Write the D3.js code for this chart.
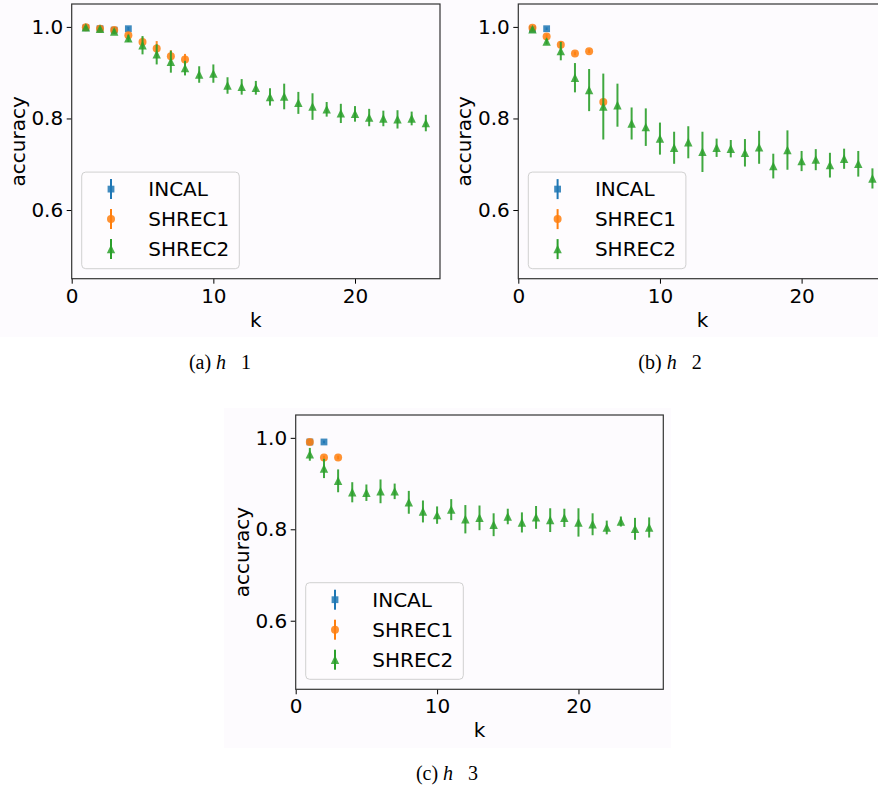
<!DOCTYPE html>
<html>
<head>
<meta charset="utf-8">
<script src="https://cdn.jsdelivr.net/npm/d3@7"></script>
<style>
  body { margin: 0; background: #fff; }
  svg { display: block; }
  .tick text { font-family: "DejaVu Sans", sans-serif; font-size: 20px; fill: #000; }
  .lbl { font-family: "DejaVu Sans", sans-serif; font-size: 20px; fill: #000; }
  .cap { font-family: "Liberation Serif", "Times New Roman", serif; font-size: 20px; fill: #000; }
</style>
</head>
<body>
<script>
// k values along x
var kValues = [1, 2, 3, 4, 5, 6, 7, 8, 9, 10, 11, 12, 13, 14, 15, 16, 17, 18, 19, 20, 21, 22, 23, 24, 25];
var seriesNames = ["INCAL", "SHREC1", "SHREC2"];
var xTicks = [0, 10, 20];
var yTicks = [0.6, 0.8, 1.0];
var captions = ["1", "2", "3"];

// (a) h = 1
var incalA = [0.998, 0.996, 0.993, 0.996];
var incalAErr = [0.003, 0.003, 0.004, 0.004];
var shrec1A = [0.999, 0.996, 0.993, 0.982, 0.967, 0.953, 0.936, 0.929];
var shrec1AErr = [0.003, 0.003, 0.004, 0.006, 0.010, 0.016, 0.013, 0.012];
var shrec2A = [0.999, 0.996, 0.990, 0.975, 0.960, 0.940, 0.924, 0.910, 0.896, 0.898, 0.872, 0.869, 0.867,
  0.847, 0.848, 0.834, 0.826, 0.820, 0.811, 0.810, 0.802, 0.800, 0.798, 0.800, 0.790];
var shrec2AErr = [0.003, 0.004, 0.005, 0.008, 0.020, 0.022, 0.024, 0.016, 0.018, 0.020, 0.018, 0.017, 0.015,
  0.019, 0.028, 0.024, 0.029, 0.016, 0.021, 0.017, 0.019, 0.017, 0.020, 0.015, 0.018];

// (b) h = 2
var incalB = [0.995, 0.996];
var incalBErr = [0.003, 0.003];
var shrec1B = [0.998, 0.979, 0.961, 0.942, 0.947, 0.836];
var shrec1BErr = [0.003, 0.005, 0.008, 0.004, 0.004, 0.006];
var shrec2B = [0.995, 0.968, 0.947, 0.889, 0.862, 0.826, 0.829, 0.789, 0.781, 0.756, 0.736, 0.748, 0.727,
  0.736, 0.734, 0.725, 0.737, 0.696, 0.731, 0.707, 0.710, 0.698, 0.712, 0.701, 0.669];
var shrec2BErr = [0.004, 0.006, 0.020, 0.032, 0.046, 0.072, 0.047, 0.035, 0.041, 0.035, 0.035, 0.035, 0.044,
  0.020, 0.019, 0.030, 0.036, 0.027, 0.043, 0.022, 0.023, 0.027, 0.022, 0.028, 0.022];

// (c) h = 3
var incalC = [0.991, 0.991];
var incalCErr = [0.003, 0.003];
var shrec1C = [0.991, 0.957, 0.957];
var shrec1CErr = [0.003, 0.004, 0.004];
var shrec2C = [0.964, 0.933, 0.906, 0.881, 0.880, 0.883, 0.883, 0.859, 0.839, 0.831, 0.843, 0.822, 0.825,
  0.810, 0.828, 0.815, 0.826, 0.820, 0.825, 0.815, 0.811, 0.804, 0.817, 0.801, 0.804];
var shrec2CErr = [0.014, 0.021, 0.025, 0.022, 0.018, 0.026, 0.017, 0.025, 0.024, 0.019, 0.023, 0.031, 0.027,
  0.025, 0.017, 0.022, 0.025, 0.026, 0.020, 0.031, 0.024, 0.015, 0.011, 0.024, 0.022];

var colors = ["#1f77b4", "#ff7f0e", "#2ca02c"];
var figBg = "#fdfbfe";

function pack(vals, errs) {
  return vals.map((v, i) => ({ k: kValues[i], v: v, e: errs[i] }));
}

var panels = [
  { fig: [0, 0, 447, 337], ax: [71.7, 4, 368.3, 274.7], cap: [220, 369],
    series: [pack(incalA, incalAErr), pack(shrec1A, shrec1AErr), pack(shrec2A, shrec2AErr)] },
  { fig: [447, 0, 447, 337], ax: [518.3, 4, 368.3, 274.7], cap: [670, 369],
    series: [pack(incalB, incalBErr), pack(shrec1B, shrec1BErr), pack(shrec2B, shrec2BErr)] },
  { fig: [224, 408, 447, 340], ax: [295.7, 415, 367.6, 274.3], cap: [447, 780],
    series: [pack(incalC, incalCErr), pack(shrec1C, shrec1CErr), pack(shrec2C, shrec2CErr)] }
];

const svg = d3.select("body").append("svg").attr("width", 878).attr("height", 792);

// marker drawing: square, circle, triangle (bbox centred like matplotlib)
function marker(sel, idx) {
  if (idx === 0) {
    sel.append("rect").attr("x", -3.4).attr("y", -3.4).attr("width", 6.8).attr("height", 6.8);
  } else if (idx === 1) {
    sel.append("circle").attr("r", 4);
  } else {
    sel.append("path").attr("d", "M0,-4.4L-4.2,4.2L4.2,4.2Z");
  }
}

panels.forEach(function (p, pi) {
  const [ax, ay, aw, ah] = p.ax;
  svg.append("rect").attr("x", p.fig[0]).attr("y", p.fig[1])
    .attr("width", p.fig[2]).attr("height", p.fig[3]).attr("fill", figBg);

  const x = d3.scaleLinear().domain([0, 26]).range([ax, ax + aw]);
  const y = d3.scaleLinear().domain([0.45, 1.05]).range([ay + ah, ay]);

  const g = svg.append("g");

  // axes
  g.append("g").attr("transform", `translate(0,${ay + ah})`)
    .call(d3.axisBottom(x).tickValues(xTicks).tickFormat(d3.format("d")).tickSize(5).tickPadding(5).tickSizeOuter(0))
    .call((s) => s.select(".domain").remove());
  g.append("g").attr("transform", `translate(${ax},0)`)
    .call(d3.axisLeft(y).tickValues(yTicks).tickFormat(d3.format(".1f")).tickSize(5).tickPadding(3.5).tickSizeOuter(0))
    .call((s) => s.select(".domain").remove());
  g.selectAll(".tick line").attr("stroke", "#000").attr("stroke-width", 1);

  g.append("text").attr("class", "lbl").attr("text-anchor", "middle")
    .attr("transform", `translate(${ax - 47},${ay + ah / 2}) rotate(-90)`).text("accuracy");
  g.append("text").attr("class", "lbl").attr("text-anchor", "middle")
    .attr("x", ax + aw / 2).attr("y", ay + ah + 48).text("k");

  // data
  p.series.forEach(function (data, si) {
    const sg = g.append("g").attr("fill", colors[si]).attr("stroke", colors[si]);
    sg.selectAll("line").data(data).enter().append("line")
      .attr("x1", (d) => x(d.k)).attr("x2", (d) => x(d.k))
      .attr("y1", (d) => y(d.v - d.e)).attr("y2", (d) => y(d.v + d.e))
      .attr("stroke-width", 2).attr("opacity", 0.9);
    sg.selectAll("g.m").data(data).enter().append("g").attr("class", "m")
      .attr("transform", (d) => `translate(${x(d.k)},${y(d.v)})`)
      .attr("stroke", "none").attr("opacity", 0.85)
      .each(function () { marker(d3.select(this), si); });
  });

  // frame
  g.append("rect").attr("x", ax).attr("y", ay).attr("width", aw).attr("height", ah)
    .attr("fill", "none").attr("stroke", "#333").attr("stroke-width", 1.2);

  // legend
  const lg = g.append("g").attr("transform", `translate(${ax + 10},${ay + ah - 106.6})`);
  lg.append("rect").attr("width", 157.6).attr("height", 96.6).attr("rx", 4)
    .attr("fill", "#fefdfe").attr("fill-opacity", 0.8).attr("stroke", "#d0d0d0").attr("stroke-width", 1);
  seriesNames.forEach(function (name, si) {
    const row = lg.append("g").attr("transform", `translate(0,${17 + si * 30})`);
    row.append("line").attr("x1", 29.3).attr("x2", 29.3).attr("y1", -10).attr("y2", 10)
      .attr("stroke", colors[si]).attr("stroke-width", 2);
    const m = row.append("g").attr("transform", "translate(29.3,0)").attr("fill", colors[si]).attr("opacity", 0.85);
    marker(m, si);
    row.append("text").attr("class", "lbl").attr("x", 66.6).attr("y", 7.3).text(name);
  });

  // caption
  const cap = svg.append("text").attr("class", "cap").attr("text-anchor", "middle")
    .attr("x", p.cap[0]).attr("y", p.cap[1]);
  cap.append("tspan").text("(" + "abc"[pi] + ") ");
  cap.append("tspan").attr("font-style", "italic").text("h");
  cap.append("tspan").attr("xml:space", "preserve").text("\u2002 " + captions[pi]);
});
</script>
</body>
</html>
